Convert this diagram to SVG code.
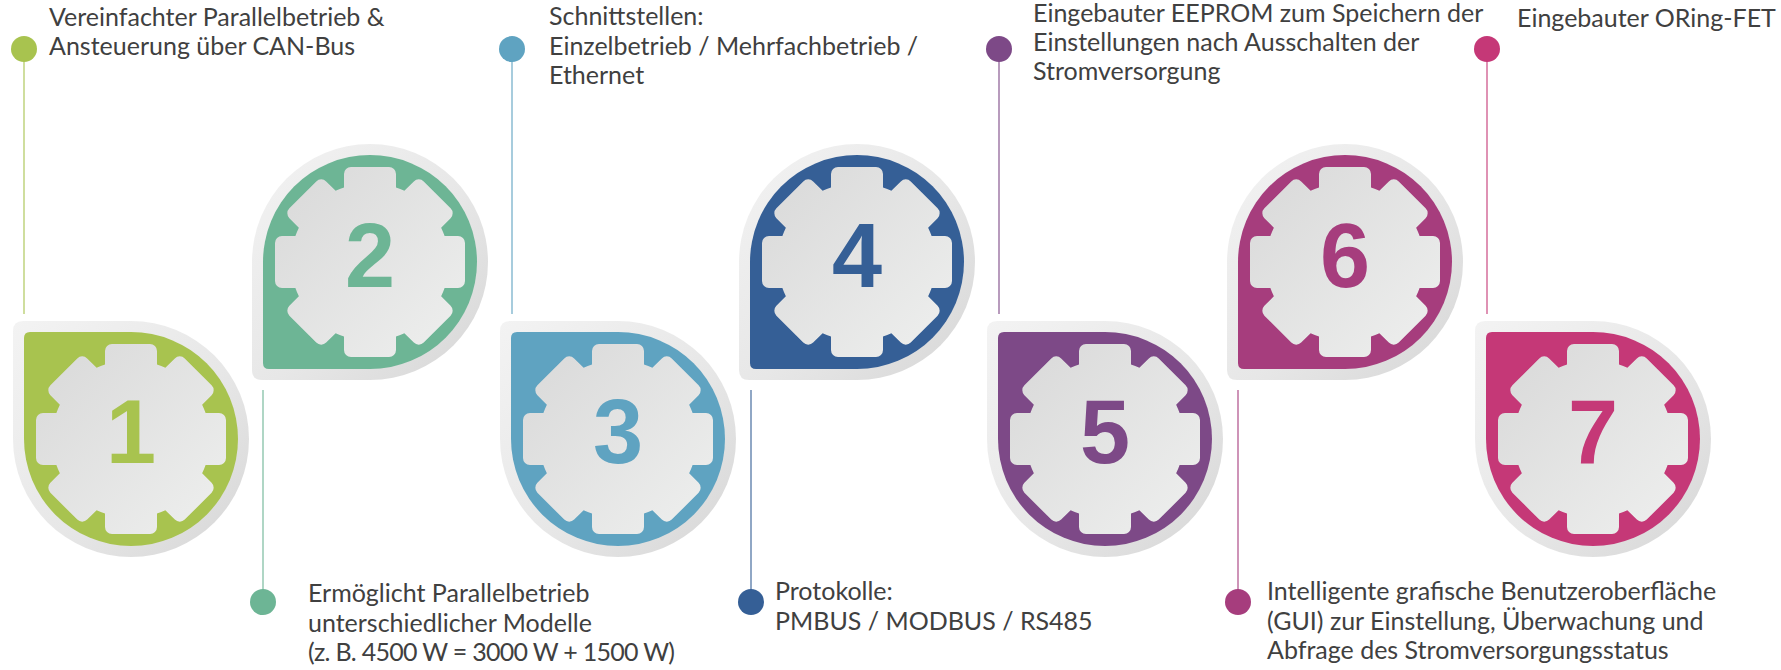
<svg xmlns="http://www.w3.org/2000/svg" width="1781" height="670" viewBox="0 0 1781 670">
<style>
.lbl{font-family:Lato,"Open Sans","Liberation Sans",sans-serif;font-size:25px;fill:#404040}
.num{font-family:"Liberation Sans",Arial,sans-serif;font-weight:bold;font-size:90px;text-anchor:middle}
.ln{stroke-width:2;fill:none;opacity:.55}
</style>
<defs>
<linearGradient id="ring" x1="0" y1="0" x2="1" y2="1">
<stop offset="0" stop-color="#f3f3f3"/><stop offset="0.55" stop-color="#e7e7e7"/><stop offset="1" stop-color="#d6d6d6"/>
</linearGradient>
<linearGradient id="gearG" x1="0" y1="0" x2="1" y2="1">
<stop offset="0" stop-color="#d8d8d8"/><stop offset="1" stop-color="#eff0ef"/>
</linearGradient>
<path id="dropTL" d="M -107 0 L -107 -101 Q -107 -107 -101 -107 L 0 -107 A 107 107 0 1 1 -107 0 Z"/>
<path id="dropBL" d="M -107 0 A 107 107 0 1 1 0 107 L -101 107 Q -107 107 -107 101 Z"/>
<path id="ringTL" d="M -118 0 L -118 -108 Q -118 -118 -108 -118 L 0 -118 A 118 118 0 1 1 -118 0 Z" fill="url(#ring)"/>
<path id="ringBL" d="M -118 0 A 118 118 0 1 1 0 118 L -108 118 Q -118 118 -118 108 Z" fill="url(#ring)"/>
<clipPath id="gearClip">
<circle r="79"/>
<rect x="-26" y="-95" width="52" height="190" rx="7"/>
<rect x="-95" y="-26" width="190" height="52" rx="7"/>
<rect x="-26" y="-95" width="52" height="190" rx="7" transform="rotate(45)"/>
<rect x="-26" y="-95" width="52" height="190" rx="7" transform="rotate(-45)"/>
</clipPath>
<rect id="gear" x="-98" y="-98" width="196" height="196" fill="url(#gearG)" clip-path="url(#gearClip)"/>
</defs>
<rect width="1781" height="670" fill="#ffffff"/>

<g id="connectors">
<line class="ln" x1="24" y1="49" x2="24" y2="314" stroke="#a8c34f"/>
<circle cx="24" cy="49" r="13" fill="#a8c34f"/>
<line class="ln" x1="263" y1="390" x2="263" y2="602" stroke="#6db595"/>
<circle cx="263" cy="602" r="13" fill="#6db595"/>
<line class="ln" x1="512" y1="49" x2="512" y2="314" stroke="#5fa3c1"/>
<circle cx="512" cy="49" r="13" fill="#5fa3c1"/>
<line class="ln" x1="751" y1="390" x2="751" y2="602" stroke="#355f96"/>
<circle cx="751" cy="602" r="13" fill="#355f96"/>
<line class="ln" x1="999" y1="49" x2="999" y2="314" stroke="#7d4987"/>
<circle cx="999" cy="49" r="13" fill="#7d4987"/>
<line class="ln" x1="1238" y1="390" x2="1238" y2="602" stroke="#a63d7d"/>
<circle cx="1238" cy="602" r="13" fill="#a63d7d"/>
<line class="ln" x1="1487" y1="49" x2="1487" y2="314" stroke="#c53877"/>
<circle cx="1487" cy="49" r="13" fill="#c53877"/>
</g>

<g id="node1">
<g transform="translate(131,439)">
<use href="#ringTL"/><use href="#dropTL" fill="#a8c34f"/><use href="#gear"/>
<text class="num" x="0" y="24" fill="#a8c34f">1</text>
</g>
<text class="lbl" x="49" y="26">Vereinfachter Parallelbetrieb &amp;<tspan x="49" y="55">Ansteuerung über CAN-Bus</tspan></text>
</g>

<g id="node2">
<g transform="translate(370,262)">
<use href="#ringBL"/><use href="#dropBL" fill="#6db595"/><use href="#gear"/>
<text class="num" x="0" y="25" fill="#6db595">2</text>
</g>
<text class="lbl" x="308" y="602">Ermöglicht Parallelbetrieb<tspan x="308" y="632">unterschiedlicher Modelle</tspan><tspan x="308" y="661" textLength="367" lengthAdjust="spacing">(z. B. 4500 W = 3000 W + 1500 W)</tspan></text>
</g>

<g id="node3">
<g transform="translate(618,439)">
<use href="#ringTL"/><use href="#dropTL" fill="#5fa3c1"/><use href="#gear"/>
<text class="num" x="0" y="24" fill="#5fa3c1">3</text>
</g>
<text class="lbl" x="549" y="25">Schnittstellen:<tspan x="549" y="55">Einzelbetrieb / Mehrfachbetrieb /</tspan><tspan x="549" y="84">Ethernet</tspan></text>
</g>

<g id="node4">
<g transform="translate(857,262)">
<use href="#ringBL"/><use href="#dropBL" fill="#355f96"/><use href="#gear"/>
<text class="num" x="0" y="25" fill="#355f96">4</text>
</g>
<text class="lbl" x="775" y="600">Protokolle:<tspan x="775" y="630">PMBUS / MODBUS / RS485</tspan></text>
</g>

<g id="node5">
<g transform="translate(1105,439)">
<use href="#ringTL"/><use href="#dropTL" fill="#7d4987"/><use href="#gear"/>
<text class="num" x="0" y="24" fill="#7d4987">5</text>
</g>
<text class="lbl" x="1033" y="22">Eingebauter EEPROM zum Speichern der<tspan x="1033" y="51">Einstellungen nach Ausschalten der</tspan><tspan x="1033" y="80">Stromversorgung</tspan></text>
</g>

<g id="node6">
<g transform="translate(1345,262)">
<use href="#ringBL"/><use href="#dropBL" fill="#a63d7d"/><use href="#gear"/>
<text class="num" x="0" y="25" fill="#a63d7d">6</text>
</g>
<text class="lbl" x="1267" y="600">Intelligente grafische Benutzeroberfläche<tspan x="1267" y="630">(GUI) zur Einstellung, Überwachung und</tspan><tspan x="1267" y="659">Abfrage des Stromversorgungsstatus</tspan></text>
</g>

<g id="node7">
<g transform="translate(1593,439)">
<use href="#ringTL"/><use href="#dropTL" fill="#c53877"/><use href="#gear"/>
<text class="num" x="0" y="24" fill="#c53877">7</text>
</g>
<text class="lbl" x="1517" y="27">Eingebauter ORing-FET</text>
</g>
</svg>
